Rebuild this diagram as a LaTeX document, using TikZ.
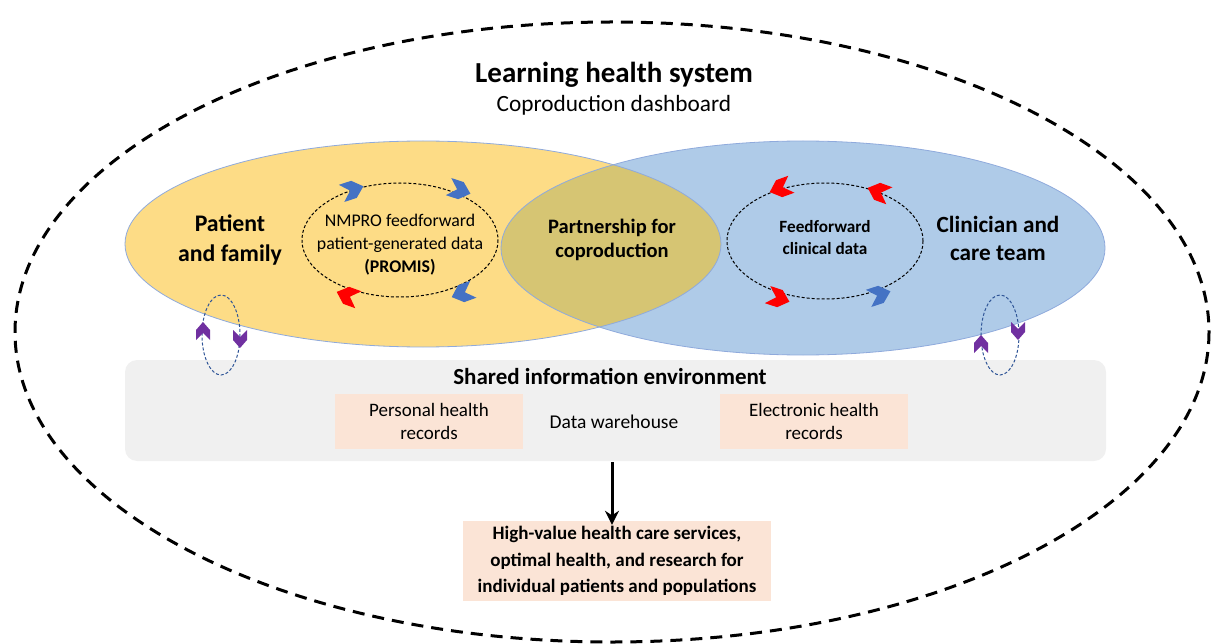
\documentclass[tikz,border=0pt]{standalone}
\usepackage{fontspec}
\usetikzlibrary{arrows.meta}
\setmainfont{Carlito}
\begin{document}
\begin{tikzpicture}[x=1pt,y=-1pt,
  txt/.style={align=center,inner sep=0pt,text=black},
  pinkbox/.style={fill=recpink,draw=none,minimum width=188pt,minimum height=55pt,align=center,font=\fontsize{19}{23}\selectfont}]
\definecolor{yel}{HTML}{FDDC86}
\definecolor{blu}{HTML}{AFCBE8}
\definecolor{olive}{HTML}{D6C573}
\definecolor{recpink}{HTML}{FBE4D6}
\definecolor{cblue}{HTML}{4472C4}
\definecolor{cred}{HTML}{FF0000}
\definecolor{cpurp}{HTML}{7030A0}
\definecolor{edge}{HTML}{8FAADC}
\definecolor{gry}{HTML}{F0F0F0}
\definecolor{loopc}{HTML}{2F5597}
\useasboundingbox (0,0) rectangle (1212,644);
\clip (0,0) rectangle (1212,644);
% big outer ellipse
\draw[line width=3pt,dash pattern=on 12pt off 8pt] (612,332) ellipse [x radius=597,y radius=310];
% yellow and blue ellipses
\fill[yel] (423,244) ellipse [x radius=298,y radius=103];
\fill[blu] (803,248) ellipse [x radius=302,y radius=107];
\begin{scope}
\clip (423,244) ellipse [x radius=298,y radius=103];
\fill[olive] (803,248) ellipse [x radius=302,y radius=107];
\end{scope}
\draw[edge,line width=0.8pt] (423,244) ellipse [x radius=298,y radius=103];
\draw[edge,line width=0.8pt] (803,248) ellipse [x radius=302,y radius=107];
% shared info environment
\fill[gry,rounded corners=12pt] (125,360) rectangle (1106,461);
\node[txt,font=\fontsize{23}{26}\selectfont\bfseries] (shared) at (610,376) {Shared information environment};
\node[pinkbox] (phr) at (429,421) {Personal health\\records};
\node[txt,font=\fontsize{19.5}{23}\selectfont] (dw) at (614,422) {Data warehouse};
\node[pinkbox] (ehr) at (814,421) {Electronic health\\records};
% bottom box
\node[fill=recpink,minimum width=308pt,minimum height=80pt,align=center,font=\fontsize{19}{26.5}\selectfont\bfseries] (out) at (617,561) {High-value health care services,\\optimal health, and research for\\individual patients and populations};
\coordinate (arrtop) at (612,462);
\draw[line width=3pt,-{Stealth[length=14pt,width=14pt]}] (arrtop) -- ([yshift=-4pt]out.north -| arrtop);
% titles
\node[txt,font=\fontsize{29}{32}\selectfont\bfseries] (title) at (614,75) {Learning health system};
\node[txt,font=\fontsize{23.3}{26}\selectfont] (sub) at (614,105) {Coproduction dashboard};
% inner dashed loops
\draw[line width=1pt,dash pattern=on 3pt off 2pt] (400,240) ellipse [x radius=98,y radius=57];
\draw[line width=1pt,dash pattern=on 3pt off 2pt] (825,241) ellipse [x radius=98,y radius=58];
\draw[loopc,line width=1pt,dash pattern=on 3pt off 2pt] (221,335) ellipse [x radius=19,y radius=40];
\draw[loopc,line width=1pt,dash pattern=on 3pt off 2pt] (1000,335) ellipse [x radius=19,y radius=40];
% chevrons
\tikzset{chevron/.pic={\fill[pic actions] (-11,-9) -- (2,-9) -- (12,0) -- (2,9) -- (-11,9) -- (-2,0) -- cycle;},
  schev/.pic={\fill[pic actions] (-9,-7) -- (1,-7) -- (9,0) -- (1,7) -- (-9,7) -- (-2,0) -- cycle;}}
\pic[cblue,rotate=18] at (352,190) {chevron};
\pic[cblue,rotate=-18] at (459,190) {chevron};
\pic[cblue,rotate=200] at (463,293) {chevron};
\pic[cred,rotate=160] at (348,296) {chevron};
\pic[cred,rotate=200] at (781,188) {chevron};
\pic[cred,rotate=160] at (879,192) {chevron};
\pic[cred,rotate=-18] at (778,298) {chevron};
\pic[cblue,rotate=18] at (879,295) {chevron};
\pic[cpurp,rotate=90] at (203,331) {schev};
\pic[cpurp,rotate=-90] at (240,339) {schev};
\pic[cpurp,rotate=90] at (981,344) {schev};
\pic[cpurp,rotate=-90] at (1018,331) {schev};
% labels
\node[txt,font=\fontsize{23.8}{30}\selectfont\bfseries] (pat) at (230,240) {Patient\\and family};
\node[txt,font=\fontsize{17.8}{23}\selectfont] (nmpro) at (400,245) {NMPRO feedforward\\patient-generated data\\\textbf{(PROMIS)}};
\node[txt,font=\fontsize{20.5}{24}\selectfont\bfseries] (part) at (612,240) {Partnership for\\coproduction};
\node[txt,font=\fontsize{17.2}{22}\selectfont\bfseries] (ff) at (825,238) {Feedforward\\clinical data};
\node[txt,font=\fontsize{23.2}{28}\selectfont\bfseries] (clin) at (998,238) {Clinician and\\care team};
\end{tikzpicture}
\end{document}
